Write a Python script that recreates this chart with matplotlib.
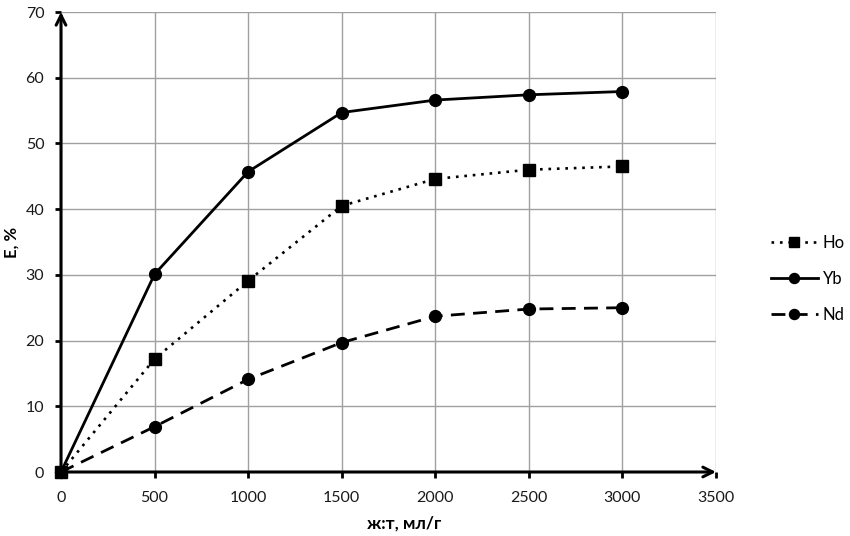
import matplotlib
matplotlib.use("Agg")
import matplotlib.pyplot as plt

plt.rcParams['font.family'] = ['Lato', 'DejaVu Sans']

ratio = [0, 500, 1000, 1500, 2000, 2500, 3000]
ho = [0, 17.2, 29.1, 40.5, 44.6, 46.0, 46.5]
yb = [0, 30.1, 45.7, 54.7, 56.6, 57.4, 57.9]
nd = [0, 6.9, 14.1, 19.7, 23.7, 24.8, 25.0]

x_ticks = [0, 500, 1000, 1500, 2000, 2500, 3000, 3500]
y_ticks = [0, 10, 20, 30, 40, 50, 60, 70]

fig = plt.figure(figsize=(8.5, 5.36), dpi=100)
ax = fig.add_axes([61 / 850, 1 - 472 / 536, (716 - 61) / 850, (472 - 12) / 536])

ax.plot(ratio, ho, color="black", linestyle=(0, (1, 2.2)), linewidth=1.9,
        marker="s", markersize=8.5, label="Ho", clip_on=False, zorder=3)
ax.plot(ratio, yb, color="black", linestyle="-", linewidth=2.0,
        marker="o", markersize=8.5, label="Yb", clip_on=False, zorder=3)
ax.plot(ratio, nd, color="black", linestyle=(0, (5, 3)), linewidth=2.0,
        marker="o", markersize=8.5, label="Nd", clip_on=False, zorder=3)

ax.set_xlim(0, 3500)
ax.set_ylim(0, 70)
ax.set_xticks(x_ticks)
ax.set_yticks(y_ticks)
ax.grid(True, color="#a0a0a0", linewidth=1.0)
ax.set_axisbelow(True)

for s in ["top", "right", "left", "bottom"]:
    ax.spines[s].set_visible(False)

# axes drawn as arrows
ax.annotate("", xy=(1, 0), xytext=(0, 0), xycoords="axes fraction",
            arrowprops=dict(arrowstyle="->,head_length=0.7,head_width=0.35",
                            color="black", lw=2.2, shrinkA=0, shrinkB=0))
ax.annotate("", xy=(0, 1), xytext=(0, 0), xycoords="axes fraction",
            arrowprops=dict(arrowstyle="->,head_length=0.7,head_width=0.35",
                            color="black", lw=2.2, shrinkA=0, shrinkB=0))

ax.tick_params(axis="both", direction="out", length=4, width=2, color="black",
               labelsize=11.5, labelcolor="#1a1a1a")
ax.tick_params(axis="x", pad=10)
ax.tick_params(axis="y", pad=8)

ax.set_xlabel("ж:т, мл/г", fontsize=12.5, fontweight="bold")
ax.set_ylabel("E, %", fontsize=12, fontweight="bold")
ax.xaxis.set_label_coords(0.524, -0.095)
ax.yaxis.set_label_coords(-0.064, 0.5)

fig.legend(loc="center left", bbox_to_anchor=(771 / 850, 1 - 279 / 536),
           frameon=False, fontsize=12, handlelength=2.8, labelspacing=1.2,
           handletextpad=0.3, markerscale=0.85, borderpad=0, borderaxespad=0)

fig.savefig("out.png", dpi=100)
